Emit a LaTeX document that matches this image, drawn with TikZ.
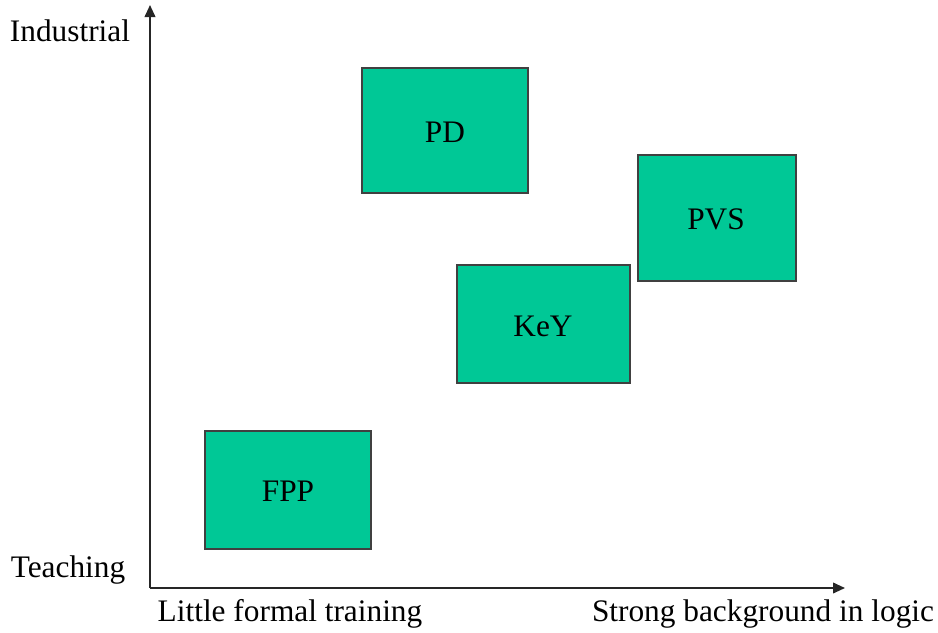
\documentclass[tikz,border=0pt]{standalone}
\usepackage{fontspec}
\setmainfont{Liberation Serif}
\usetikzlibrary{arrows.meta}
\definecolor{boxgreen}{HTML}{00C896}
\definecolor{edgegray}{HTML}{404040}
\begin{document}
\begin{tikzpicture}[x=0.75pt,y=-0.75pt,
  tool/.style={draw=edgegray,line width=1.2pt,fill=boxgreen},
  lbl/.style={font=\fontsize{23.5}{28}\selectfont,inner sep=0pt},
  axis/.style={draw=black!85,line width=1.3pt,-{Triangle[length=9pt,width=8pt]}}]
\useasboundingbox (0,0) rectangle (938,632);
\coordinate (o) at (150,588);
\coordinate (ytop) at (150,5);
\coordinate (xend) at (845,588);
\draw[axis] (o) -- (ytop);
\draw[axis] (o) -- (xend);
\draw[tool] (362,68) rectangle (528,193);
\draw[tool] (638,155) rectangle (796,281);
\draw[tool] (457,265) rectangle (630,383);
\draw[tool] (205,431) rectangle (371,549);
\node[lbl] (pd) at (445,132) {PD};
\node[lbl] (pvs) at (716,219) {PVS};
\node[lbl] (key) at (543,326) {KeY};
\node[lbl] (fpp) at (288,491) {FPP};
\node[lbl] (ind) at (70,31) {Industrial};
\node[lbl] (teach) at (68,570) {Teaching};
\node[lbl] (little) at (290,614) {Little formal training};
\node[lbl] (strong) at (763,614) {Strong background in logic};
\end{tikzpicture}
\end{document}
